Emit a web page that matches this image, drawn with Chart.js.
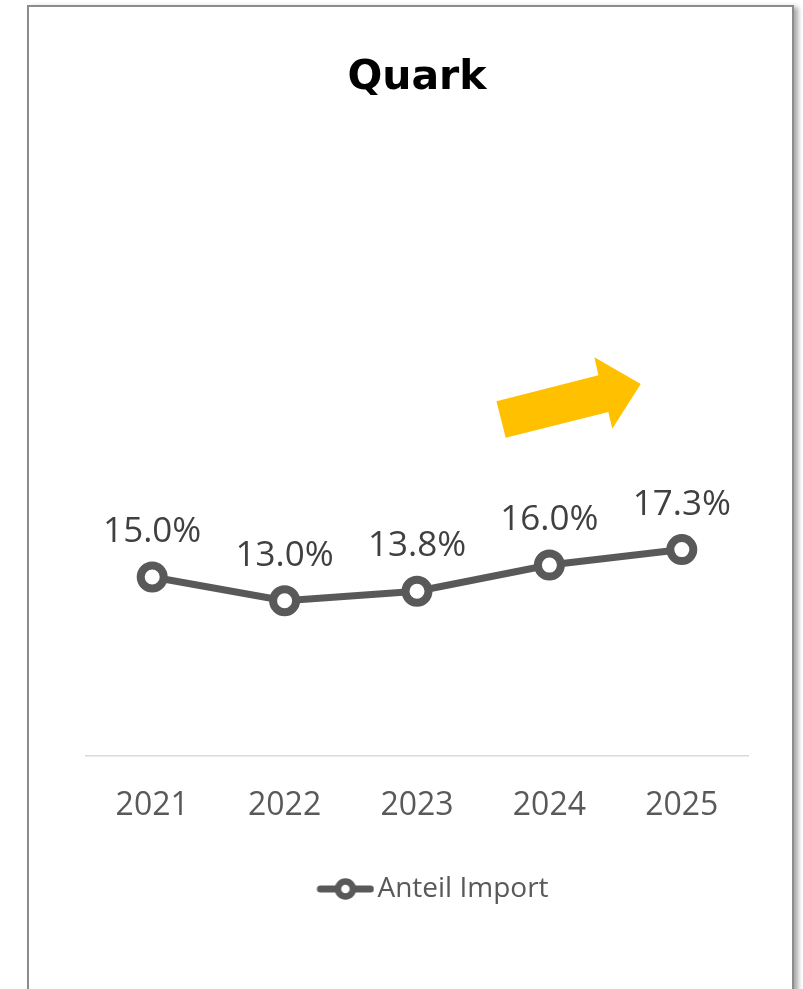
<!DOCTYPE html>
<html>
<head>
<meta charset="utf-8">
<script src="https://cdn.jsdelivr.net/npm/chart.js@4.4.1/dist/chart.umd.min.js"></script>
<style>
  html, body { margin: 0; padding: 0; background: #ffffff; overflow: hidden; }
  #frame {
    position: absolute; left: 27px; top: 5px; width: 763px; height: 1000px;
    border: 2px solid #8c8c8c; border-bottom: none;
    box-shadow: 4px 2px 5px rgba(0,0,0,0.35);
    background: #ffffff;
  }
  #wrap { position: absolute; left: 0; top: 0; width: 803px; height: 989px; }
</style>
</head>
<body>
<div id="frame"></div>
<div id="wrap"><canvas id="c" width="803" height="989"></canvas></div>
<script>
const categories = ['2021', '2022', '2023', '2024', '2025'];
const anteilImport = [15.0, 13.0, 13.8, 16.0, 17.3];
const seriesName = 'Anteil Import';
const chartTitle = 'Quark';

const LINE_COLOR = '#595959';

// legend symbol: short line with a hollow circle (content sits in the right part)
const legendIcon = document.createElement('canvas');
legendIcon.width = 100; legendIcon.height = 26;
(function () {
  const g = legendIcon.getContext('2d');
  g.strokeStyle = LINE_COLOR; g.lineWidth = 7; g.lineCap = 'round';
  g.beginPath(); g.moveTo(46, 13); g.lineTo(96, 13); g.stroke();
  g.beginPath(); g.arc(71, 13, 7.5, 0, Math.PI * 2);
  g.fillStyle = '#ffffff'; g.fill();
  g.lineWidth = 6.5; g.stroke();
})();

const decorPlugin = {
  id: 'decor',
  afterDatasetsDraw(chart) {
    const ctx = chart.ctx;
    const meta = chart.getDatasetMeta(0);
    ctx.save();
    ctx.font = '35px "Open Sans", "Noto Sans", sans-serif';
    ctx.fillStyle = '#404040';
    ctx.textAlign = 'center';
    ctx.textBaseline = 'alphabetic';
    meta.data.forEach((pt, i) => {
      ctx.fillText(anteilImport[i].toFixed(1) + '%', pt.x, pt.y - 35);
    });
    // yellow trend arrow (decoration), placed relative to the plot area
    const a = chart.chartArea;
    const w = a.right - a.left, h = a.bottom - a.top;
    const pts = [
      [0.620, 0.405], [0.774, 0.361], [0.768, 0.331], [0.838, 0.376],
      [0.795, 0.451], [0.789, 0.423], [0.634, 0.466]
    ];
    ctx.fillStyle = '#FFC000';
    ctx.beginPath();
    pts.forEach((p, i) => {
      const x = a.left + p[0] * w, y = a.top + p[1] * h;
      if (i === 0) ctx.moveTo(x, y); else ctx.lineTo(x, y);
    });
    ctx.closePath();
    ctx.fill();
    ctx.restore();
  }
};

new Chart(document.getElementById('c'), {
  type: 'line',
  data: {
    labels: categories,
    datasets: [{
      label: seriesName,
      data: anteilImport,
      borderColor: LINE_COLOR,
      borderWidth: 7,
      pointRadius: 11.5,
      pointHoverRadius: 11.5,
      pointBorderWidth: 8,
      pointBackgroundColor: '#ffffff',
      pointBorderColor: LINE_COLOR,
      tension: 0
    }]
  },
  options: {
    responsive: false,
    animation: false,
    devicePixelRatio: 1,
    layout: { padding: { left: 86, right: 55, top: 4, bottom: 76 } },
    scales: {
      x: {
        offset: true,
        grid: { display: false, drawTicks: false },
        border: { display: true, color: '#d9d9d9', width: 1.5 },
        ticks: {
          padding: 31,
          color: '#595959',
          font: { family: '"Open Sans", "Noto Sans", sans-serif', size: 32 }
        }
      },
      y: {
        display: false,
        min: 0,
        max: 50
      }
    },
    plugins: {
      title: {
        display: true,
        text: chartTitle,
        color: '#000000',
        font: { family: '"DejaVu Sans", sans-serif', size: 41, weight: 'bold' },
        padding: { top: 50, bottom: 57 }
      },
      legend: {
        display: true,
        position: 'bottom',
        labels: {
          usePointStyle: true,
          pointStyleWidth: 78,
          padding: 19,
          color: '#595959',
          font: { family: '"Open Sans", "Noto Sans", sans-serif', size: 28 },
          generateLabels: (chart) => [{
            text: seriesName,
            fillStyle: LINE_COLOR,
            strokeStyle: LINE_COLOR,
            lineWidth: 0,
            pointStyle: legendIcon,
            hidden: false,
            datasetIndex: 0,
            fontColor: '#595959'
          }]
        }
      },
      tooltip: { enabled: false }
    }
  },
  plugins: [decorPlugin]
});
</script>
</body>
</html>
